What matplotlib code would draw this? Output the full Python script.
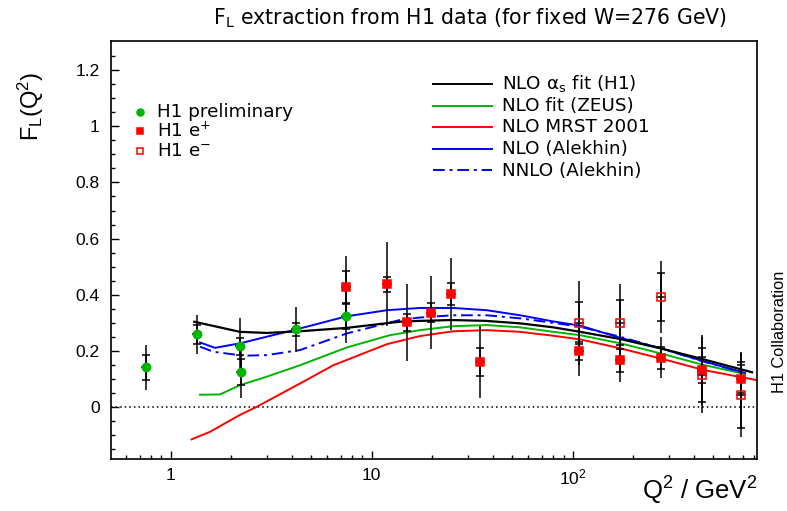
import matplotlib
matplotlib.use('Agg')
import matplotlib.pyplot as plt
from matplotlib.lines import Line2D
from matplotlib.ticker import FixedLocator, NullFormatter

# ---------------- data ----------------
prelim_q2 = [0.75, 1.35, 2.20, 2.25, 4.19, 7.47]
prelim_fl = [0.141, 0.259, 0.217, 0.126, 0.277, 0.323]
prelim_stat = [0.043, 0.034, 0.030, 0.046, 0.024, 0.045]
prelim_tot = [0.080, 0.070, 0.100, 0.093, 0.080, 0.095]

ep_q2 = [7.47, 11.9, 14.9, 19.7, 24.7, 34.6, 108, 171, 274, 440, 685]
ep_fl = [0.427, 0.437, 0.302, 0.336, 0.402, 0.160, 0.200, 0.166, 0.175, 0.132, 0.099]
ep_stat = [0.057, 0.026, 0.030, 0.033, 0.039, 0.050, 0.033, 0.042, 0.040, 0.045, 0.050]
ep_tot = [0.110, 0.150, 0.138, 0.130, 0.128, 0.128, 0.090, 0.076, 0.073, 0.124, 0.098]

em_q2 = [108, 171, 274, 440, 685]
em_fl = [0.300, 0.300, 0.393, 0.114, 0.044]
em_stat = [0.075, 0.080, 0.085, 0.097, 0.118]
em_tot = [0.150, 0.137, 0.128, 0.136, 0.150]

h1_q2 = [1.31, 2.21, 3.0, 4.4, 7.5, 13.8, 17.4, 25, 37, 55, 80, 109, 173, 274, 448, 780]
h1_fl = [0.304, 0.268, 0.264, 0.270, 0.282, 0.304, 0.307, 0.310, 0.307, 0.298, 0.284, 0.268, 0.242, 0.209, 0.170, 0.124]

zeus_q2 = [1.40, 1.76, 2.21, 3.0, 4.4, 7.5, 12.3, 17.4, 25.4, 37.3, 54.7, 80, 109, 173, 274, 448, 720]
zeus_fl = [0.044, 0.045, 0.078, 0.108, 0.149, 0.212, 0.256, 0.274, 0.288, 0.292, 0.284, 0.268, 0.256, 0.227, 0.191, 0.150, 0.118]

mrst_q2 = [1.27, 1.57, 2.21, 2.68, 4.4, 6.44, 11.9, 17.4, 25.4, 37.3, 54.7, 80, 109, 173, 274, 448, 823]
mrst_fl = [-0.115, -0.088, -0.028, 0.001, 0.084, 0.149, 0.224, 0.253, 0.270, 0.274, 0.268, 0.254, 0.241, 0.209, 0.173, 0.132, 0.096]

alek_q2 = [1.40, 1.66, 2.21, 4.19, 7.47, 11.9, 17.4, 25.4, 37.3, 54.7, 80, 109, 173, 274, 448, 720]
alek_fl = [0.230, 0.211, 0.227, 0.276, 0.323, 0.345, 0.353, 0.353, 0.345, 0.327, 0.305, 0.290, 0.246, 0.210, 0.163, 0.122]

nnlo_q2 = [1.40, 1.63, 2.30, 3.0, 4.4, 7.5, 13.8, 17.4, 25.4, 37.3, 54.7, 80, 109, 173, 274, 448, 720]
nnlo_fl = [0.215, 0.197, 0.183, 0.185, 0.203, 0.262, 0.310, 0.319, 0.327, 0.327, 0.316, 0.300, 0.286, 0.250, 0.209, 0.162, 0.121]

title = "F$_{L}$ extraction from H1 data (for fixed W=276 GeV)"
curve_labels = ["NLO $\\alpha_{s}$ fit (H1)", "NLO fit (ZEUS)", "NLO MRST 2001",
                "NLO (Alekhin)", "NNLO (Alekhin)"]
point_labels = ["H1 preliminary", "H1 e$^{+}$", "H1 e$^{-}$"]
x_ticks = [1, 10, 100]
x_ticklabels = ["1", "10", "10$^{2}$"]
y_ticks = [0, 0.2, 0.4, 0.6, 0.8, 1.0, 1.2]
y_ticklabels = ["0", "0.2", "0.4", "0.6", "0.8", "1", "1.2"]

# ---------------- style ----------------
plt.rcParams['font.family'] = ['DejaVu Sans']
plt.rcParams['mathtext.default'] = 'regular'

GREEN = '#00b400'
RED = '#ff0000'
BLUE = '#0000ff'

W, H = 787, 511
fig = plt.figure(figsize=(W / 100, H / 100), dpi=100)
L, R, T, B = 110.7, 756.7, 41.5, 459.3
ax = fig.add_axes([L / W, 1 - B / H, (R - L) / W, (B - T) / H])

ax.set_xscale('log')
ax.set_xlim(0.503, 823)
ax.set_ylim(-0.186, 1.302)

# zero line
ax.axhline(0, color='black', ls=(0, (1, 2)), lw=1.1, zorder=1)

# curves
ax.plot(h1_q2, h1_fl, color='black', lw=1.6, zorder=3)
ax.plot(zeus_q2, zeus_fl, color=GREEN, lw=1.4, zorder=2)
ax.plot(mrst_q2, mrst_fl, color=RED, lw=1.4, zorder=2)
ax.plot(alek_q2, alek_fl, color=BLUE, lw=1.4, zorder=2)
ax.plot(nnlo_q2, nnlo_fl, color=BLUE, lw=1.4, ls=(0, (6, 2.5, 1.5, 2.5)), zorder=2)

def draw_points(q2, fl, stat, tot, color, fill, marker):
    ax.errorbar(q2, fl, yerr=tot, fmt='none', ecolor='black', elinewidth=1.1, zorder=4)
    ax.errorbar(q2, fl, yerr=stat, fmt='none', ecolor='black', elinewidth=1.1,
                capsize=3.2, capthick=1.1, zorder=4)
    ax.plot(q2, fl, ls='none', marker='_', ms=7, mew=1.1, color='black', zorder=4)
    ax.plot(q2, fl, ls='none', marker=marker, ms=6.3 if marker == 's' else 6.0,
            mfc=color if fill else 'none', mec=color, mew=1.1, zorder=5)

draw_points(prelim_q2, prelim_fl, prelim_stat, prelim_tot, GREEN, True, 'o')
draw_points(ep_q2, ep_fl, ep_stat, ep_tot, RED, True, 's')
draw_points(em_q2, em_fl, em_stat, em_tot, RED, False, 's')

# ticks
ax.xaxis.set_major_locator(FixedLocator(x_ticks))
ax.set_xticklabels(x_ticklabels)
minors = [m * 10 ** e for e in (-1, 0, 1, 2) for m in range(2, 10)]
ax.xaxis.set_minor_locator(FixedLocator(minors))
ax.xaxis.set_minor_formatter(NullFormatter())
ax.yaxis.set_major_locator(FixedLocator(y_ticks))
ax.set_yticklabels(y_ticklabels)
ax.yaxis.set_minor_locator(FixedLocator([i * 0.05 for i in range(-3, 26)]))
ax.tick_params(which='both', direction='in', top=False, right=False, width=1,
               labelsize=12.5)
ax.tick_params(which='major', length=5.5)
ax.tick_params(which='minor', length=2.8)
ax.tick_params(axis='x', pad=6)
ax.tick_params(axis='y', pad=8)
for lab in ax.get_xticklabels() + ax.get_yticklabels():
    lab.set_family('Liberation Sans')
for s in ax.spines.values():
    s.set_linewidth(1.2)

# title and axis labels
fig.text(470 / W, 1 - 18 / H, title, ha='center', va='center', fontsize=14.8)
fig.text(31 / W, 1 - 106 / H, "F$_{L}$(Q$^{2}$)", rotation=90, ha='center', va='center',
         fontsize=17, family='Liberation Sans')
fig.text(757 / W, 1 - 491 / H, "Q$^{2}$ / GeV$^{2}$", ha='right', va='center',
         fontsize=18.5, family='Liberation Sans')
fig.text(779 / W, 1 - 332 / H, "H1 Collaboration", rotation=90, ha='center', va='center',
         fontsize=11.8, family='Liberation Sans')

# legend: points
def ax_xy(px, py):
    return ((px - L) / (R - L), (B - py) / (B - T))

pt_rows = [111.5, 131, 151]
pt_styles = [(GREEN, True, 'o', 5.0), (RED, True, 's', 5.0), (RED, False, 's', 5.0)]
for lab, py, (c, f, m, ms) in zip(point_labels, pt_rows, pt_styles):
    x0, y0 = ax_xy(140.5, py)
    ax.plot([x0], [y0], transform=ax.transAxes, marker=m, ms=ms, ls='none',
            mfc=c if f else 'none', mec=c, mew=1.1, clip_on=False)
    tx, ty = ax_xy(157, py)
    ax.text(tx, ty, lab, transform=ax.transAxes, ha='left', va='center', fontsize=13.2)

# legend: curves
cv_rows = [84, 106, 127.5, 149, 170.5]
cv_styles = [('black', '-'), (GREEN, '-'), (RED, '-'), (BLUE, '-'),
             (BLUE, (0, (6, 2.5, 1.5, 2.5)))]
for lab, py, (c, ls) in zip(curve_labels, cv_rows, cv_styles):
    xa, ya = ax_xy(433, py)
    xb, _ = ax_xy(492, py)
    ax.add_line(Line2D([xa, xb], [ya, ya], transform=ax.transAxes, color=c, ls=ls, lw=1.4))
    tx, ty = ax_xy(502, py)
    ax.text(tx, ty, lab, transform=ax.transAxes, ha='left', va='center', fontsize=13.2)

fig.savefig('out.png', dpi=100)
